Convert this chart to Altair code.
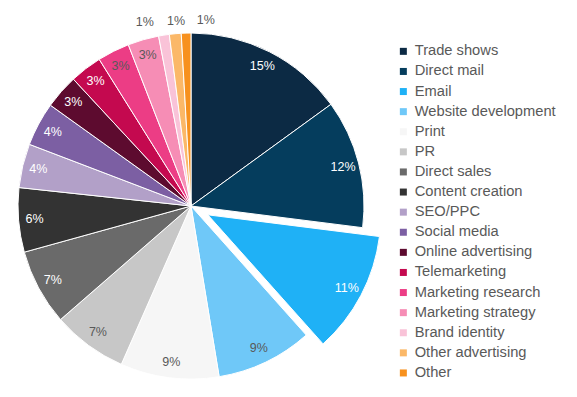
import math
import altair as alt
import pandas as pd

categories = ["Trade shows", "Direct mail", "Email", "Website development", "Print", "PR",
              "Direct sales", "Content creation", "SEO/PPC", "Social media", "Online advertising",
              "Telemarketing", "Marketing research", "Marketing strategy", "Brand identity",
              "Other advertising", "Other"]
values = [15.0, 12.0, 11.4, 9.0, 9.2, 7.0, 7.1, 6.0, 4.1, 4.1, 3.2, 3.0, 3.0, 2.9, 1.0, 1.1, 0.9]
colors = ["#0c2a44", "#053d5d", "#1fb1f6", "#6fc8f8", "#f6f6f6", "#c7c7c7", "#6a6a6a", "#333333",
          "#b2a0c8", "#7c5fa3", "#5d0b2f", "#c4094f", "#ec3d85", "#f68db5", "#f9c3d8", "#fbb868",
          "#f7911e"]
light_label = ["Website development", "Print", "PR", "Marketing research", "Marketing strategy"]
exploded = "Email"
small = ["Brand identity", "Other advertising", "Other"]
small_dx = [-17, 2, 20]

CX, CY, R = 183, 198, 173
LABEL_R = 157
SMALL_R = 186
EXPLODE = 19
FONT = "Liberation Sans"

idx = categories.index(exploded)
mid_angle = (sum(values[:idx]) + values[idx] / 2) / sum(values) * 2 * math.pi
ex_dx = EXPLODE * math.sin(mid_angle)
ex_dy = -EXPLODE * math.cos(mid_angle)

df = pd.DataFrame({"cat": categories, "value": values, "order": list(range(len(categories)))})

theta_scale = alt.Scale(domain=[0, 1], range=[0, 2 * math.pi])

base = (
    alt.Chart(df)
    .transform_joinaggregate(total="sum(value)")
    .transform_window(cum="sum(value)", sort=[alt.SortField("order")], frame=[None, 0])
    .transform_calculate(
        start="(datum.cum - datum.value) / datum.total",
        end="datum.cum / datum.total",
        mid="(datum.cum - datum.value / 2) / datum.total",
        label="format(datum.value, '.0f') + '%'",
    )
)

color_enc = alt.Color(
    "cat:N",
    scale=alt.Scale(domain=categories, range=colors),
    legend=alt.Legend(
        title=None, orient="none", legendX=388, legendY=36,
        symbolType="square", symbolSize=49, symbolStrokeWidth=0,
        labelFont=FONT, labelFontSize=14.7, labelColor="#595959",
        rowPadding=4.1, labelLimit=300, labelOffset=4,
    ),
)

not_ex = f"datum.cat != '{exploded}'"
is_ex = f"datum.cat == '{exploded}'"
small_list = "[" + ",".join(f"'{s}'" for s in small) + "]"

arcs = base.transform_filter(not_ex).mark_arc(radius=R, stroke="white", strokeWidth=1).encode(
    theta=alt.Theta("start:Q", scale=theta_scale),
    theta2="end:Q",
    color=color_enc,
    x=alt.value(CX), y=alt.value(CY),
)

arc_ex = base.transform_filter(is_ex).mark_arc(radius=R, stroke="white", strokeWidth=1).encode(
    theta=alt.Theta("start:Q", scale=theta_scale),
    theta2="end:Q",
    color=color_enc,
    x=alt.value(CX + ex_dx), y=alt.value(CY + ex_dy),
)

label_color = alt.condition(
    alt.FieldOneOfPredicate(field="cat", oneOf=light_label),
    alt.value("#595959"), alt.value("white"),
)

labels = base.transform_filter(f"{not_ex} && indexof({small_list}, datum.cat) < 0").mark_text(
    radius=LABEL_R, font=FONT, fontSize=12.5
).encode(
    theta=alt.Theta("mid:Q", scale=theta_scale),
    text="label:N",
    color=label_color,
    x=alt.value(CX), y=alt.value(CY),
)

label_ex = base.transform_filter(is_ex).mark_text(
    radius=LABEL_R, font=FONT, fontSize=12.5, color="white"
).encode(
    theta=alt.Theta("mid:Q", scale=theta_scale),
    text="label:N",
    x=alt.value(CX + ex_dx), y=alt.value(CY + ex_dy),
)

small_layers = []
for name, dx in zip(small, small_dx):
    small_layers.append(
        base.transform_filter(f"datum.cat == '{name}'").mark_text(
            radius=SMALL_R, font=FONT, fontSize=12.5, color="#595959", dx=dx
        ).encode(
            theta=alt.Theta("mid:Q", scale=theta_scale),
            text="label:N",
            x=alt.value(CX), y=alt.value(CY),
        )
    )

chart = alt.layer(arcs, arc_ex, labels, label_ex, *small_layers).properties(
    width=380, height=380, padding=0
).configure_view(stroke=None)

chart.save("out.html", embed_options={"renderer": "svg", "actions": False})
